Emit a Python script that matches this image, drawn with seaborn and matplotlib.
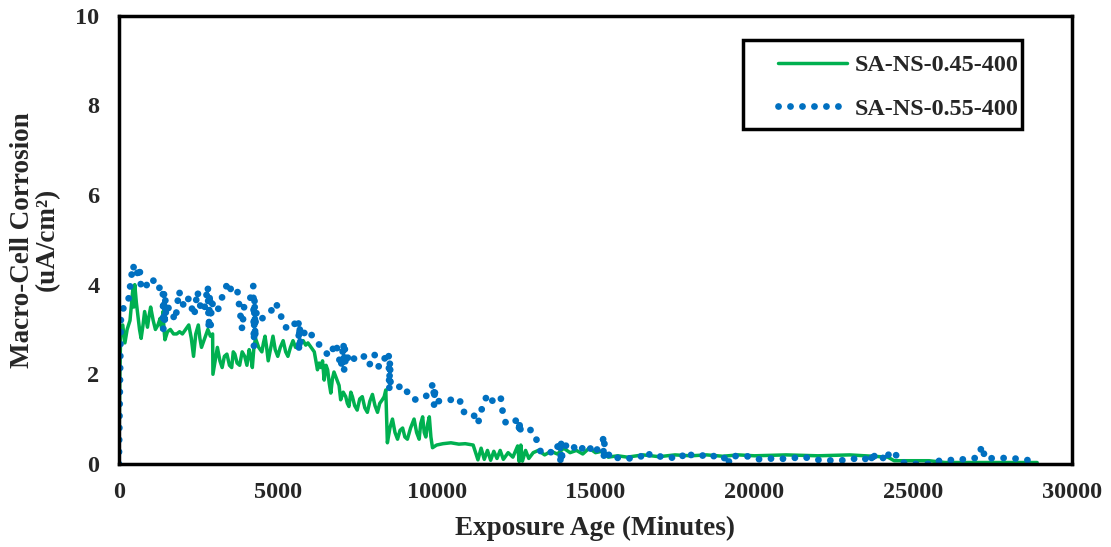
import seaborn as sns
import matplotlib.pyplot as plt
import pandas as pd
from matplotlib.patches import Rectangle

# SA-NS-0.45-400 (green line)
green_x = [0, 30, 60, 120, 190, 260, 350, 400, 440, 470, 500, 550, 600, 650, 700, 760,
           810, 860, 900, 950, 1000, 1080, 1150, 1230, 1300, 1350, 1390, 1420, 1450, 1530,
           1620, 1720, 1820, 1910, 2000, 2100, 2200, 2280, 2350, 2420, 2500, 2550, 2600,
           2700, 2800, 2880, 2950, 2960, 3030, 3100, 3180, 3250, 3320, 3400, 3480, 3550,
           3600, 3650, 3720, 3800, 3880, 3960, 4030, 4100, 4150, 4200, 4250, 4300, 4400,
           4500, 4550, 4600, 4650, 4700, 4780, 4850, 4920, 5000, 5080, 5170, 5250, 5320,
           5400, 5480, 5560, 5640, 5720, 5800, 5880, 5950, 6050, 6150, 6200, 6250, 6300,
           6360, 6410, 6460, 6520, 6570, 6620, 6670, 6720, 6770, 6850, 6930, 6980, 7060,
           7140, 7190, 7240, 7300, 7350, 7420, 7500, 7580, 7660, 7740, 7820, 7900, 7980,
           8060, 8140, 8210, 8290, 8350, 8400, 8450, 8530, 8610, 8690, 8770, 8850, 8930,
           9000, 9080, 9180, 9290, 9370, 9450, 9500, 9560, 9610, 9660, 9720, 9770, 9820,
           9870, 10000, 10200, 10450, 10700, 10900, 11150, 11300, 11400, 11500, 11600,
           11700, 11800, 11900, 12000, 12100, 12250, 12400, 12550, 12600, 12650, 12700,
           12800, 12900, 13040, 13200, 13400, 13600, 13800, 14000, 14200, 14400, 14600,
           14800, 15000, 15200, 15400, 15700, 16000, 16500, 17000, 17500, 18000, 18500,
           19000, 19500, 20000, 21000, 22000, 23000, 23700, 24200, 24400, 25500, 26000,
           28900]
green_y = [0.0, 2.0, 3.0, 3.1, 2.7, 3.0, 3.2, 3.6, 3.9, 3.5, 4.0, 3.6, 3.3, 3.0, 2.8, 3.1,
           3.4, 3.2, 3.05, 3.3, 3.5, 3.2, 3.0, 3.1, 3.25, 3.0, 3.4, 3.0, 2.77, 2.95,
           3.0, 2.9, 2.9, 2.95, 2.9, 3.0, 3.1, 2.8, 2.4, 2.9, 3.1, 2.8, 2.6,
           2.8, 3.0, 2.85, 2.9, 2.0, 2.3, 2.6, 2.3, 2.15, 2.4, 2.45, 2.2, 2.15,
           2.5, 2.45, 2.25, 2.2, 2.5, 2.4, 2.2, 2.55, 2.4, 2.15, 2.6, 2.8, 2.6,
           2.5, 2.7, 2.85, 2.6, 2.3, 2.6, 2.85, 2.55, 2.4, 2.6, 2.75, 2.5, 2.4,
           2.6, 2.75, 2.6, 2.6, 2.7, 2.75, 2.65, 2.7, 2.6, 2.5, 2.3, 2.1, 2.25,
           2.15, 2.3, 1.87, 2.2, 2.1, 1.8, 1.58, 1.9, 2.05, 1.9, 1.75, 1.43, 1.6,
           1.5, 1.35, 1.28, 1.6, 1.5, 1.3, 1.2, 1.45, 1.5, 1.25, 1.15, 1.4, 1.55,
           1.3, 1.15, 1.35, 1.43, 1.5, 1.65, 0.47, 0.8, 1.0, 0.7, 0.55, 0.75, 0.8,
           0.6, 0.55, 0.8, 1.0, 0.7, 0.55, 0.9, 1.05, 0.7, 0.6, 0.9, 1.05, 0.6,
           0.36, 0.42, 0.45, 0.47, 0.44, 0.45, 0.42, 0.09, 0.35, 0.1, 0.3,
           0.08, 0.28, 0.12, 0.3, 0.1, 0.25, 0.15, 0.4, 0.05, 0.42, 0.06,
           0.3, 0.12, 0.25, 0.3, 0.2, 0.28, 0.22, 0.35, 0.25, 0.3, 0.22,
           0.35, 0.25, 0.28, 0.15, 0.18, 0.15, 0.2, 0.16, 0.2, 0.18, 0.2,
           0.17, 0.2, 0.18, 0.2, 0.18, 0.2, 0.17, 0.15, 0.07, 0.07, 0.03,
           0.03]

# SA-NS-0.55-400 (blue dotted)
blue_x = [0, 60, 150, 290, 440, 550, 650, 700, 850, 1050, 1200, 1380, 1400, 1420, 1440,
          1460, 1480, 1570, 1780, 1890, 2050, 2200, 2370, 2470, 2570, 2680, 2800, 2830,
          2860, 2890, 2920, 3100, 3300, 3440, 3570, 3730, 3880, 3940, 4100, 4230, 4250,
          4270, 4290, 4310, 4410, 4620, 4780, 4940, 5100, 5250, 5410, 5650, 5670, 5690,
          5710, 5880, 6040, 6200, 6410, 6620, 6830, 6990, 7070, 7090, 7110, 7130, 7250,
          7460, 7720, 7880, 8040, 8190, 8490, 8510, 8530, 8550, 8720, 8980, 9140, 9350,
          9660, 9900, 9920, 9940, 9960, 10190, 10450, 10600, 10760, 10870, 11080, 11290,
          11300, 11450, 11600, 11700, 11800, 12020, 12070, 12180, 12330, 12580, 12600,
          12620, 12640, 12860, 13070, 13170, 13280, 13490, 13700, 13880, 13900, 13920,
          13940, 13960, 14220, 14430, 14750, 14950, 15060, 15240, 15260, 15280, 15480,
          15800, 16100, 16400, 16600, 16700, 16900, 17200, 17500, 17700, 17900, 18000,
          18300, 18500, 18770, 18980, 19190, 19200, 19220, 19500, 19770, 20080, 20450,
          20720, 21140, 21510, 21820, 22190, 22500, 22820, 23080, 23450, 23660, 23700,
          23750, 23800, 24030, 24140, 24250, 24400, 24560, 24870, 25240, 25660, 25820,
          26030, 26340, 26710, 27030, 27140, 27200, 27240, 27660, 28080, 28400, 28770]
blue_y = [0.0, 3.2, 3.5, 3.6, 4.44, 4.2, 4.4, 3.9, 3.97, 4.15, 3.9, 3.97, 3.0, 3.8, 3.1,
          3.7, 3.3, 3.5, 3.2, 3.86, 3.5, 3.7, 3.3, 3.86, 3.5, 3.4, 3.97, 3.0,
          3.8, 3.1, 3.6, 3.4, 3.83, 4.06, 3.8, 3.86, 3.0, 3.5, 3.6, 3.97, 2.6,
          3.7, 2.8, 3.4, 3.2, 3.3, 3.4, 3.6, 3.3, 3.05, 3.0, 3.25, 2.5, 3.1,
          2.7, 3.0, 2.9, 2.75, 2.57, 2.4, 2.7, 2.15, 2.7, 2.1, 2.6, 2.2, 2.47,
          2.3, 2.4, 2.2, 2.45, 2.15, 2.5, 1.65, 2.3, 1.8, 1.7, 1.75, 1.5, 1.43,
          1.5, 1.8, 1.3, 1.7, 1.4, 1.4, 1.43, 1.33, 1.4, 1.14, 1.14, 1.0,
          0.9, 1.3, 1.55, 1.47, 1.36, 1.47, 1.2, 0.9, 0.9, 1.0, 0.7,
          0.95, 0.75, 0.8, 0.7, 0.48, 0.26, 0.3, 0.22, 0.5, 0.0, 0.45,
          0.05, 0.35, 0.48, 0.26, 0.44, 0.22, 0.33, 0.55, 0.1, 0.45, 0.1,
          0.15, 0.12, 0.18, 0.1, 0.22, 0.15, 0.18, 0.12, 0.2, 0.1, 0.2,
          0.16, 0.23, 0.16, 0.09, 0.2, 0.05, 0.18, 0.17, 0.17, 0.1, 0.12,
          0.11, 0.12, 0.16, 0.11, 0.07, 0.08, 0.08, 0.12, 0.08, 0.23, 0.1,
          0.25, 0.1, 0.15, 0.05, 0.26, 0.28, 0.05, 0.0, 0.0, 0.0, 0.07,
          0.07, 0.1, 0.1, 0.14, 0.35, 0.4, 0.12, 0.13, 0.13, 0.1, 0.07]

green = pd.DataFrame({"x": green_x, "y": green_y})
blue = pd.DataFrame({"x": blue_x, "y": blue_y})

sns.set_style("white")
plt.rcParams["font.family"] = ["Liberation Serif", "DejaVu Serif"]
plt.rcParams["font.weight"] = "bold"

fig = plt.figure(figsize=(11.11, 5.47), dpi=100)
ax = fig.add_axes([0.107, 0.152, 0.858, 0.819])

sns.lineplot(data=green, x="x", y="y", ax=ax, sort=False, estimator=None,
             color="#00B050", linewidth=2.5, label="SA-NS-0.45-400")
sns.lineplot(data=blue, x="x", y="y", ax=ax, sort=False, estimator=None,
             color="#0070C0", linewidth=4.9, linestyle=(0, (0.01, 1.75)),
             dash_capstyle="round", label="SA-NS-0.55-400")

ax.set_xlim(0, 30000)
ax.set_ylim(0, 10)
ax.set_xticks(range(0, 30001, 5000))
ax.set_yticks(range(0, 11, 2))
ax.tick_params(length=0, labelsize=17.5)
ax.tick_params(axis="y", pad=14)
ax.tick_params(axis="x", pad=13)
for lab in ax.get_xticklabels() + ax.get_yticklabels():
    lab.set_fontweight("bold")

ax.set_xlabel("Exposure Age (Minutes)", fontsize=19.5, fontweight="bold", labelpad=9)
ax.set_ylabel("Macro-Cell Corrosion\n(uA/cm²)", fontsize=19.5, fontweight="bold",
              labelpad=11, linespacing=1.0)

for sp in ax.spines.values():
    sp.set_visible(True)
    sp.set_color("black")
    sp.set_linewidth(2.5)

# legend entries without frame, box drawn separately so padding can be uneven
ax.legend(loc="upper right", bbox_to_anchor=(0.9485, 0.925), borderaxespad=0,
          frameon=False, prop={"size": 17.4, "weight": "bold"}, handlelength=2.85,
          handletextpad=0.3, borderpad=0.2, labelspacing=0.9)
ax.add_patch(Rectangle((0.6548, 0.7478), 0.2927, 0.1986, transform=ax.transAxes,
                       fill=False, edgecolor="black", linewidth=2.5, zorder=5))

fig.savefig("out.png", dpi=100)
